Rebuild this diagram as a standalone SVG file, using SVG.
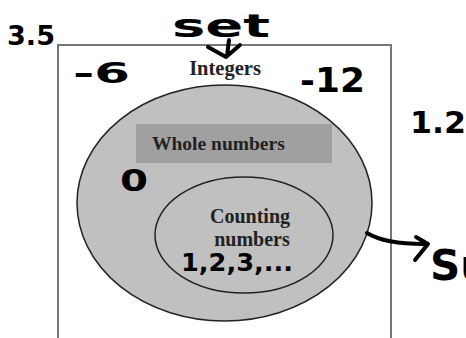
<svg xmlns="http://www.w3.org/2000/svg" width="466" height="338" viewBox="0 0 466 338">
<style>
.lbl{font-family:"Liberation Serif","Times New Roman",serif;font-weight:bold;fill:#222;}
.hw{font-family:"DejaVu Sans","Noto Sans",sans-serif;font-weight:bold;fill:#000;}
.ink{fill:none;stroke:#000;stroke-width:4;stroke-linecap:round;stroke-linejoin:round;}
</style>
<rect width="466" height="338" fill="#fff"/>
<g id="integers">
<rect x="58" y="45" width="333" height="310" fill="#fff" stroke="#777" stroke-width="2"/>
<text class="lbl" x="225" y="75" font-size="20.5" text-anchor="middle">Integers</text>
</g>
<g id="whole">
<ellipse cx="224.5" cy="203" rx="147.5" ry="118" fill="#c0c0c0" stroke="#222" stroke-width="1.5"/>
<rect x="136" y="124" width="196" height="39" fill="#a0a0a0"/>
<text class="lbl" x="152" y="150" font-size="19.5">Whole numbers</text>
</g>
<g id="counting">
<ellipse cx="244" cy="235" rx="89" ry="58" fill="#c0c0c0" stroke="#222" stroke-width="1.5"/>
<text class="lbl" x="250" y="223" font-size="20" text-anchor="middle">Counting</text>
<text class="lbl" x="252" y="246" font-size="20" text-anchor="middle">numbers</text>
</g>
<g id="annotations">
<text class="hw" x="7" y="45" font-size="27" textLength="48" lengthAdjust="spacingAndGlyphs">3.5</text>
<text class="hw" x="172" y="37" font-size="32" textLength="98" lengthAdjust="spacingAndGlyphs">set</text>
<text class="hw" x="73" y="83" font-size="28" textLength="57" lengthAdjust="spacingAndGlyphs">-6</text>
<text class="hw" x="300" y="92" font-size="34" textLength="65" lengthAdjust="spacingAndGlyphs">-12</text>
<text class="hw" x="410" y="133" font-size="30" textLength="56" lengthAdjust="spacingAndGlyphs">1.2</text>
<text class="hw" x="120" y="191" font-size="30" textLength="28" lengthAdjust="spacingAndGlyphs">0</text>
<text class="hw" x="181" y="271" font-size="24" textLength="112" lengthAdjust="spacingAndGlyphs">1,2,3,...</text>
<text class="hw" x="430" y="280" font-size="42">Su</text>
</g>
<g id="connectors">
<path class="ink" d="M229 40 L227 56 M208 47 L226 57 L240 45"/>
<path class="ink" d="M367 233 Q385 244 424 244 M416 237 L428 244 L415 260"/>
</g>
</svg>
